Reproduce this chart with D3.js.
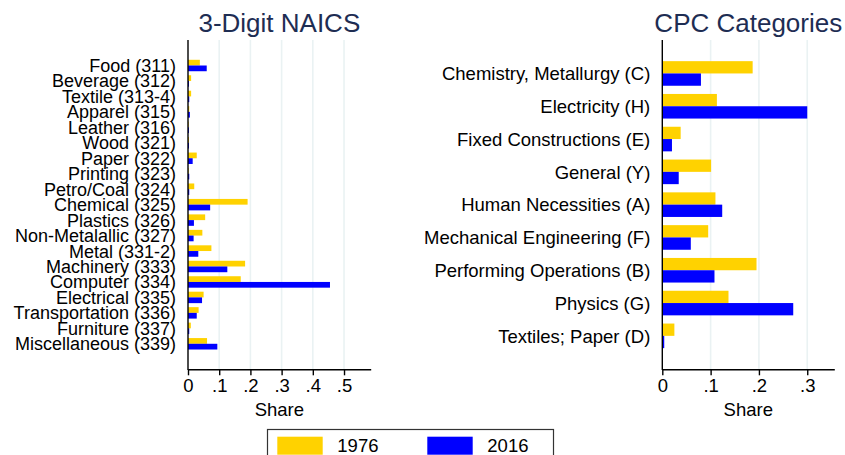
<!DOCTYPE html>
<html><head><meta charset="utf-8">
<script src="https://cdn.jsdelivr.net/npm/d3@7"></script>
<style>
html,body{margin:0;padding:0;background:#fff;}
svg{display:block;font-family:"Liberation Sans",Arial,Helvetica,sans-serif;}
</style></head>
<body>
<svg id="chart" width="845" height="455"></svg>
<script>
// ---- data ----
const naicsCategories = ["Food (311)","Beverage (312)","Textile (313-4)","Apparel (315)","Leather (316)","Wood (321)","Paper (322)","Printing (323)","Petro/Coal (324)","Chemical (325)","Plastics (326)","Non-Metalallic (327)","Metal (331-2)","Machinery (333)","Computer (334)","Electrical (335)","Transportation (336)","Furniture (337)","Miscellaneous (339)"];
const naics1976 = [0.038,0.010,0.010,0.004,0.002,0.003,0.028,0.002,0.020,0.191,0.055,0.046,0.075,0.183,0.169,0.050,0.034,0.009,0.061];
const naics2016 = [0.060,0.003,0.004,0.006,0.003,0.003,0.015,0.004,0.004,0.071,0.019,0.018,0.033,0.126,0.455,0.045,0.028,0.004,0.094];
const naicsTicks = [0,0.1,0.2,0.3,0.4,0.5];

const cpcCategories = ["Chemistry, Metallurgy (C)","Electricity (H)","Fixed Constructions (E)","General (Y)","Human Necessities (A)","Mechanical Engineering (F)","Performing Operations (B)","Physics (G)","Textiles; Paper (D)"];
const cpc1976 = [0.187,0.113,0.038,0.101,0.110,0.095,0.195,0.137,0.025];
const cpc2016 = [0.080,0.300,0.020,0.034,0.124,0.059,0.108,0.271,0.004];
const cpcTicks = [0,0.1,0.2,0.3];

const seriesNames = ["1976","2016"];
const seriesColors = ["#ffd200","#0000ff"];

// ---- drawing ----
const svg = d3.select("#chart");
const fmt = d => d === 0 ? "0" : d3.format(".1f")(d).replace(/^0/, "");
const FONT = 18.5;

function panel(opts){
  const {x0, x1, y0, y1, xmax, cats, s1, s2, ticks, title, outer, barFrac, labelFont} = opts;
  const g = svg.append("g");
  const x = d3.scaleLinear().domain([0, xmax]).range([x0, x1]);
  const y = d3.scaleBand().domain(cats).range([y0, y1]).paddingOuter(outer).paddingInner(0);
  const sub = d3.scaleBand().domain([0,1]).range([0, y.bandwidth()*barFrac*2]);

  // gridlines
  g.append("g").selectAll("line").data(ticks.filter(t => t > 0)).join("line")
    .attr("x1", d => x(d)).attr("x2", d => x(d))
    .attr("y1", y0).attr("y2", y1)
    .attr("stroke", "#eaf2f3").attr("stroke-width", 1.6);

  // bars
  const rows = cats.map((c, i) => ({c, v: [s1[i], s2[i]]}));
  const off = (y.bandwidth() - y.bandwidth()*barFrac*2) / 2;
  const rg = g.append("g").selectAll("g").data(rows).join("g")
    .attr("transform", d => `translate(0,${y(d.c) + off})`);
  rg.selectAll("rect").data(d => d.v.map((v, k) => ({v, k}))).join("rect")
    .attr("x", x(0))
    .attr("y", d => sub(d.k))
    .attr("width", d => x(d.v) - x(0))
    .attr("height", sub.bandwidth())
    .attr("fill", d => seriesColors[d.k]);

  // category labels
  g.append("g").selectAll("text").data(cats).join("text")
    .attr("x", x0 - 12)
    .attr("y", d => y(d) + y.bandwidth()/2)
    .attr("dy", "0.36em")
    .attr("text-anchor", "end")
    .attr("font-size", labelFont)
    .attr("fill", "#000")
    .text(d => d);

  // x axis
  const ax = g.append("g").attr("transform", `translate(0,${y1})`)
    .call(d3.axisBottom(x).tickValues(ticks).tickFormat(fmt).tickSize(6).tickSizeOuter(0));
  ax.select(".domain").attr("stroke", "#000").attr("stroke-width", 1.4);
  ax.selectAll(".tick line").attr("stroke", "#000").attr("stroke-width", 1.4);
  ax.selectAll(".tick text").attr("font-size", FONT).attr("font-family", null)
    .attr("fill", "#000").attr("y", 10).attr("dy", "0.71em");
  // y axis line
  g.append("line").attr("x1", x0).attr("x2", x0).attr("y1", y0).attr("y2", y1 + 0.7)
    .attr("stroke", "#000").attr("stroke-width", 1.4);

  g.append("text").attr("x", (x0 + x1)/2).attr("y", 416)
    .attr("text-anchor", "middle").attr("font-size", FONT).attr("fill", "#000").text("Share");
  g.append("text").attr("x", (x0 + x1)/2).attr("y", 32)
    .attr("text-anchor", "middle").attr("font-size", 26).attr("fill", "#1e2d53").text(title);
}

panel({x0:188, x1:370.7, y0:40, y1:369.3, xmax:0.5855, cats:naicsCategories, s1:naics1976, s2:naics2016,
  ticks:naicsTicks, title:"3-Digit NAICS", outer:1.15, barFrac:0.37, labelFont:18});
panel({x0:662.3, x1:834.3, y0:40, y1:369.3, xmax:0.356, cats:cpcCategories, s1:cpc1976, s2:cpc2016,
  ticks:cpcTicks, title:"CPC Categories", outer:0.52, barFrac:0.375, labelFont:FONT});

// legend
const lg = svg.append("g");
lg.append("rect").attr("x", 267.5).attr("y", 429.5).attr("width", 286).attr("height", 40)
  .attr("fill", "#fff").attr("stroke", "#333").attr("stroke-width", 1.2);
const items = lg.selectAll("g.item").data(seriesNames).join("g").attr("class","item")
  .attr("transform", (d, i) => `translate(${277.3 + i*150},0)`);
items.append("rect").attr("x", 0).attr("y", 436.7).attr("width", 45.4).attr("height", 18)
  .attr("fill", (d, i) => seriesColors[i]);
items.append("text").attr("x", 60).attr("y", 452).attr("font-size", FONT).attr("fill", "#000").text(d => d);
</script>
</body></html>
